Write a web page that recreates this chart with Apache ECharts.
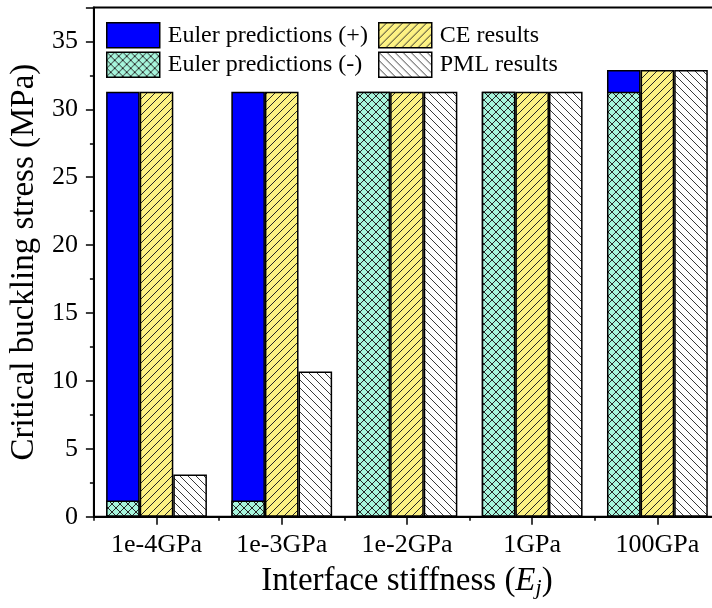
<!DOCTYPE html>
<html>
<head>
<meta charset="utf-8">
<script src="https://cdn.jsdelivr.net/npm/echarts@6/dist/echarts.min.js"></script>
<style>
  html, body { margin: 0; padding: 0; background: #fff; overflow: hidden; }
  #chart { width: 722px; height: 608px; }
</style>
</head>
<body>
<div id="chart"></div>
<script>
// Interface stiffness levels (category axis)
const categories = ['1e-4GPa', '1e-3GPa', '1e-2GPa', '1GPa', '100GPa'];
// Critical buckling stress (MPa)
const eulerPlus  = [31.3, 31.3, 31.3, 31.3, 32.9];
const eulerMinus = [1.2, 1.2, 31.3, 31.3, 31.3];
const ceResults  = [31.3, 31.3, 31.3, 31.3, 32.9];
const pmlResults = [3.1, 10.7, 31.3, 31.3, 32.9];
// Value-axis ticks
const yTicks = { min: 0, max: 37.5, interval: 5 };

const FONT = "'Liberation Serif', 'Times New Roman', serif";

// Small repeating hatch tiles used as fill patterns
function hatchTile(fill, dirs, lineColor) {
  const s = 8;
  const c = document.createElement('canvas');
  c.width = s; c.height = s;
  const g = c.getContext('2d');
  g.fillStyle = fill;
  g.fillRect(0, 0, s, s);
  g.strokeStyle = lineColor;
  g.lineWidth = 1;
  g.beginPath();
  if (dirs.indexOf('/') >= 0) {
    g.moveTo(-2, s + 2); g.lineTo(s + 2, -2);
    g.moveTo(-2, 2); g.lineTo(2, -2);
    g.moveTo(s - 2, s + 2); g.lineTo(s + 2, s - 2);
  }
  if (dirs.indexOf('\\') >= 0) {
    g.moveTo(-2, -2); g.lineTo(s + 2, s + 2);
    g.moveTo(s - 2, -2); g.lineTo(s + 2, 2);
    g.moveTo(-2, s - 2); g.lineTo(2, s + 2);
  }
  g.stroke();
  return { image: c, repeat: 'repeat' };
}

const blueFill  = '#0000ff';
const cyanFill  = hatchTile('#a6f5dc', '/\\', '#262626');
const ceFill    = hatchTile('#fdf283', '/', '#262626');
const pmlFill   = hatchTile('#ffffff', '\\', '#3a3a3a');

const BAR_W = 33.6;
const border = { borderColor: '#000', borderWidth: 1.5 };

const legendBase = {
  orient: 'vertical', top: 17,
  icon: 'rect',
  itemWidth: 53, itemHeight: 25, itemGap: 3,
  textStyle: { fontFamily: FONT, fontSize: 24, color: '#000', padding: [0, 0, 0, 3] },
  itemStyle: { borderColor: '#000', borderWidth: 1.5 },
  selectedMode: false
};

const chart = echarts.init(document.getElementById('chart'), null, { renderer: 'canvas' });

chart.setOption({
  animation: false,
  backgroundColor: '#ffffff',
  textStyle: { fontFamily: FONT },
  grid: {
    left: 88, top: 7.5, width: 632, height: 509.2,
    show: true, borderColor: '#000', borderWidth: 2, backgroundColor: 'transparent'
  },
  legend: [
    Object.assign({ data: ['Euler predictions (+)', 'Euler predictions (-)'], left: 101 }, legendBase),
    Object.assign({ data: ['CE results', 'PML results'], left: 373 }, legendBase)
  ],
  xAxis: [
    {
      type: 'category', data: categories, position: 'bottom',
      axisLine: { show: true, lineStyle: { color: '#000', width: 2 } },
      axisTick: { show: true, alignWithLabel: true, length: 8, lineStyle: { color: '#000', width: 1.5 } },
      axisLabel: { fontFamily: FONT, fontSize: 26, color: '#000', margin: 15 },
      name: '{n|Interface stiffness (}{i|E}{s|j}{n|)}',
      nameLocation: 'middle', nameGap: 46,
      nameTextStyle: {
        fontFamily: FONT, color: '#000',
        rich: {
          n: { fontFamily: FONT, fontSize: 33, color: '#000' },
          i: { fontFamily: FONT, fontSize: 33, fontStyle: 'italic', color: '#000' },
          s: { fontFamily: FONT, fontSize: 22, fontStyle: 'italic', color: '#000', padding: [15, 0, 0, 0] }
        }
      }
    },
    {
      // second category axis: boundary ticks + overlay slot for the lower Euler bars
      type: 'category', data: categories, position: 'bottom',
      axisLine: { show: false },
      axisTick: { show: true, alignWithLabel: false, length: 4, lineStyle: { color: '#000', width: 1.5 } },
      axisLabel: { show: false }
    }
  ],
  yAxis: {
    type: 'value', min: yTicks.min, max: yTicks.max, interval: yTicks.interval,
    axisLine: { show: true, lineStyle: { color: '#000', width: 2 } },
    axisTick: { show: true, length: 8, lineStyle: { color: '#000', width: 1.5 } },
    minorTick: { show: true, splitNumber: 2, length: 4, lineStyle: { color: '#000', width: 1.5 } },
    splitLine: { show: false },
    axisLabel: {
      fontFamily: FONT, fontSize: 26, color: '#000', margin: 16,
      formatter: function (v) { return v > 35 ? '' : String(v); }
    },
    name: 'Critical buckling stress (MPa)',
    nameLocation: 'middle', nameGap: 42,
    nameTextStyle: { fontFamily: FONT, fontSize: 33, color: '#000' }
  },
  series: [
    {
      name: 'Euler predictions (+)', type: 'bar', xAxisIndex: 0,
      data: eulerPlus, barWidth: BAR_W, barGap: '0%',
      itemStyle: Object.assign({ color: blueFill }, border)
    },
    {
      name: 'CE results', type: 'bar', xAxisIndex: 0,
      data: ceResults, barWidth: BAR_W, barGap: '0%',
      itemStyle: Object.assign({ color: ceFill }, border)
    },
    {
      name: 'PML results', type: 'bar', xAxisIndex: 0,
      data: pmlResults, barWidth: BAR_W, barGap: '0%',
      itemStyle: Object.assign({ color: pmlFill }, border)
    },
    {
      name: 'Euler predictions (-)', type: 'bar', xAxisIndex: 1, z: 3,
      data: eulerMinus, barWidth: BAR_W, barGap: '0%',
      itemStyle: Object.assign({ color: cyanFill }, border)
    },
    { name: 'slot-a', type: 'bar', xAxisIndex: 1, data: [], barWidth: BAR_W, barGap: '0%' },
    { name: 'slot-b', type: 'bar', xAxisIndex: 1, data: [], barWidth: BAR_W, barGap: '0%' }
  ]
});
</script>
</body>
</html>
